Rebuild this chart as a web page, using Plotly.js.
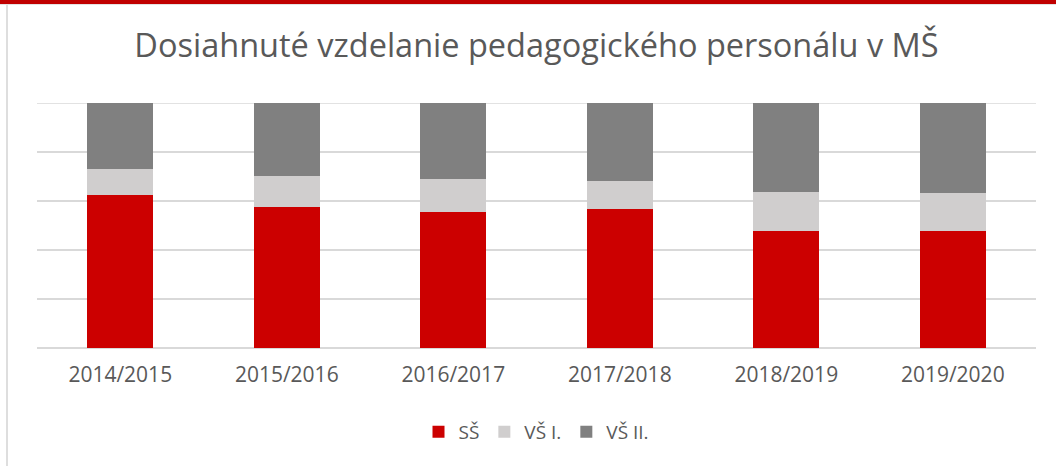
<!DOCTYPE html>
<html>
<head>
<meta charset="utf-8">
<script src="https://cdn.plot.ly/plotly-3.0.1.min.js"></script>
<style>
  html, body { margin: 0; padding: 0; background: #ffffff; }
  #wrap { position: relative; width: 1056px; height: 466px; overflow: hidden; }
  #chart { position: absolute; left: 0; top: 0; width: 1056px; height: 466px; }
  #topband { position: absolute; left: 0; top: 0; width: 1056px; height: 4px; background: #c00000; z-index: 5; }
  #topline { position: absolute; left: 0; top: 4px; width: 1056px; height: 1px; background: #e3e3e3; z-index: 5; }
  #leftline { position: absolute; left: 6px; top: 5px; width: 2px; height: 461px; background: #dedede; z-index: 5; }
</style>
</head>
<body>
<div id="wrap">
  <div id="chart"></div>
  <div id="topband"></div>
  <div id="topline"></div>
  <div id="leftline"></div>
</div>
<script>
const categories = ["2014/2015", "2015/2016", "2016/2017", "2017/2018", "2018/2019", "2019/2020"];
const seriesNames = ["SŠ", "VŠ I.", "VŠ II."];
const ssValues   = [62.6, 57.4, 55.5, 56.9, 47.8, 47.8];
const vs1Values  = [10.3, 12.8, 13.4, 11.3, 15.9, 15.3];
const vs2Values  = [27.1, 29.8, 31.1, 31.8, 36.3, 36.9];
const seriesColors = ["#cc0000", "#d0cece", "#808080"];

const allValues = [ssValues, vs1Values, vs2Values];
const traces = allValues.map((vals, i) => ({
  type: "bar",
  name: seriesNames[i],
  x: categories,
  y: vals,
  marker: { color: seriesColors[i], line: { width: 0 } },
  hoverinfo: "x+y+name"
}));

const layout = {
  width: 1056,
  height: 466,
  barmode: "stack",
  bargap: 0.604,
  paper_bgcolor: "#ffffff",
  plot_bgcolor: "#ffffff",
  margin: { l: 37, r: 20, t: 103, b: 118 },
  font: { family: "Open Sans, sans-serif", color: "#595959" },
  title: {
    text: "Dosiahnuté vzdelanie pedagogického personálu v MŠ",
    font: { family: "Open Sans, sans-serif", size: 32.5, color: "#595959" },
    x: 0.5, xref: "paper", xanchor: "center",
    y: 1 - 46 / 466, yref: "container", yanchor: "middle"
  },
  xaxis: {
    type: "category",
    showgrid: false,
    showline: false,
    zeroline: false,
    ticks: "",
    tickfont: { size: 21, color: "#595959" },
    ticklabelstandoff: 12
  },
  yaxis: {
    range: [0, 100],
    dtick: 20,
    showticklabels: false,
    showgrid: true,
    gridcolor: "#d9d9d9",
    gridwidth: 1.3,
    zeroline: true,
    zerolinecolor: "#d9d9d9",
    zerolinewidth: 1.3,
    ticks: ""
  },
  shapes: [{
    type: "line", xref: "paper", yref: "y",
    x0: 0, x1: 1, y0: 100, y1: 100,
    line: { color: "#d9d9d9", width: 1.3 },
    layer: "below"
  }],
  showlegend: true,
  legend: {
    orientation: "h",
    x: 0.5, xanchor: "center",
    y: (348 - 432) / 245, yanchor: "middle",
    font: { size: 19, color: "#595959" },
    itemwidth: 30,
    traceorder: "normal"
  }
};

Plotly.newPlot("chart", traces, layout, { displayModeBar: false, staticPlot: true });
</script>
</body>
</html>
